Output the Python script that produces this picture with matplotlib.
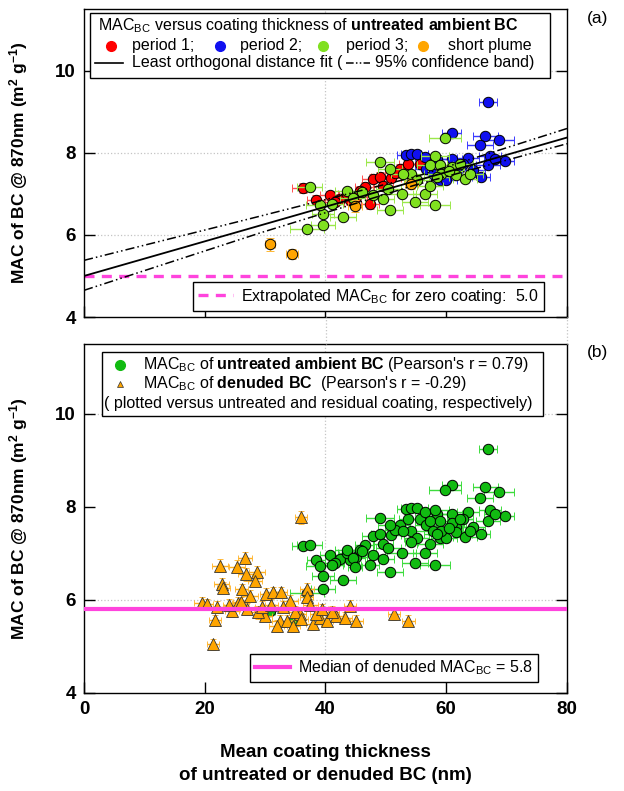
"""MAC of BC versus coating thickness, two stacked panels (a) and (b)"""
import matplotlib
matplotlib.use('Agg')
import matplotlib.pyplot as plt
from matplotlib.patches import Rectangle
from matplotlib.lines import Line2D

plt.rcParams['font.family'] = ['Liberation Sans', 'DejaVu Sans']
plt.rcParams['mathtext.fontset'] = 'custom'
plt.rcParams['mathtext.rm'] = 'Liberation Sans'
plt.rcParams['mathtext.it'] = 'Liberation Sans:italic'
plt.rcParams['mathtext.bf'] = 'Liberation Sans:bold'

# ---- panel (a): untreated ambient BC, by period ----
p1_x = [36.2, 38.5, 40.7, 42.4, 45.1, 47.4, 46.5, 47.9, 49.1, 50.9, 52.3, 53.7,
        55.6, 45.7, 44.0, 41.5, 49.5, 51.5, 43.5]
p1_y = [7.15, 6.86, 6.96, 6.88, 6.92, 6.76, 7.17, 7.37, 7.41, 7.39, 7.61, 7.73,
        7.73, 7.08, 6.85, 6.80, 7.20, 7.50, 7.00]
p1_xerr = [1.8, 1.5, 1.6, 1.4, 1.7, 1.5, 1.6, 1.8, 1.5, 1.6, 1.7, 1.5,
           1.8, 1.4, 1.6, 1.5, 1.7, 1.6, 1.5]
p1_yerr = [0.12, 0.10, 0.12, 0.11, 0.10, 0.12, 0.13, 0.11, 0.12, 0.10, 0.12, 0.11,
           0.10, 0.12, 0.11, 0.10, 0.12, 0.11, 0.10]

p2_x = [66.9, 60.9, 66.5, 68.7, 65.6, 67.2, 69.7, 66.9, 65.7, 63.6, 53.4, 54.2,
        55.1, 56.5, 56.7, 58.9, 60.9, 61.7, 64.5, 62.8, 57.8, 60.0, 58.5, 68.0]
p2_y = [9.24, 8.48, 8.42, 8.31, 8.19, 7.93, 7.81, 7.69, 7.41, 7.88, 7.95, 7.97,
        7.97, 7.90, 7.61, 7.33, 7.85, 7.57, 7.57, 7.73, 7.49, 7.33, 7.85, 7.85]
p2_xerr = [1.5, 1.6, 2.0, 2.5, 2.2, 1.8, 1.6, 2.0, 1.5, 1.8, 1.6, 1.7,
           1.9, 1.6, 1.8, 1.5, 1.7, 1.6, 1.9, 1.7, 1.5, 1.8, 1.6, 1.7]

p3_x = [37.4, 36.9, 39.6, 39.6, 42.9, 43.5, 39.1, 41.0, 49.0, 50.7, 50.4, 49.6,
        50.7, 47.9, 52.6, 54.8, 58.1, 56.5, 57.3, 59.8, 58.2, 57.3, 58.9, 60.9,
        62.3, 61.7, 63.1, 63.9, 54.2, 52.9, 59.2, 55.1, 58.4, 46.0, 44.5, 60.5]
p3_y = [7.17, 6.15, 6.23, 6.52, 6.43, 7.08, 6.72, 6.76, 7.77, 7.61, 7.12, 6.88,
        6.60, 6.96, 7.00, 6.80, 6.74, 7.00, 7.20, 8.36, 7.93, 7.69, 7.69, 7.65,
        7.73, 7.45, 7.35, 7.49, 7.49, 7.49, 7.49, 7.33, 7.41, 7.05, 6.90, 7.55]
p3_xerr = [2.1, 2.8, 2.0, 1.8, 2.2, 2.0, 2.4, 1.9, 2.3, 2.0, 2.1, 1.8,
           2.2, 2.0, 2.4, 2.1, 2.5, 2.0, 2.2, 2.6, 2.3, 2.1, 2.2, 2.0,
           2.1, 2.3, 2.0, 2.2, 2.1, 2.0, 2.3, 2.1, 2.0, 1.9, 2.1, 2.2]

plume_x = [30.8, 34.5, 44.9, 54.2]
plume_y = [5.77, 5.53, 6.70, 7.24]
plume_xerr = [0.9, 1.0, 1.2, 1.1]
plume_yerr = [0.15, 0.12, 0.14, 0.13]

# least orthogonal distance fit and 95% confidence band
fit_x = [0, 80]
fit_y = [5.0, 8.37]
band_x = [0, 29, 55, 80]
band_hi = [5.38, 6.45, 7.42, 8.59]
band_lo = [4.65, 6.04, 7.22, 8.22]
mac_zero = 5.0

# ---- panel (b): denuded BC ----
den_x = [21.4, 19.5, 20.3, 21.7, 22.5, 22.8, 23.1, 25.3, 26.7, 26.9, 28.6, 28.3,
         26.1, 25.5, 24.5, 27.5, 30.2, 31.3, 32.7, 32.5, 31.9, 33.6, 34.1, 35.8,
         36.9, 36.9, 38.0, 39.1, 40.2, 41.8, 43.2, 44.0, 45.1, 30.0, 28.9, 34.7,
         35.9, 51.3, 53.7, 29.5, 27.0, 33.0, 35.0, 37.5, 38.5, 24.0, 22.0, 36.0,
         39.5, 41.0, 26.0, 31.0]
den_y = [5.05, 5.94, 5.91, 5.56, 6.73, 6.34, 6.26, 6.71, 6.91, 6.55, 6.59, 6.41,
         6.23, 5.94, 5.76, 6.09, 6.12, 6.16, 6.16, 5.55, 5.44, 5.55, 5.98, 5.69,
         6.23, 6.06, 5.48, 5.62, 5.55, 5.66, 5.62, 5.87, 5.55, 5.66, 5.73, 5.44,
         7.78, 5.69, 5.55, 5.85, 5.80, 5.85, 5.75, 5.90, 5.70, 5.90, 5.85, 5.60,
         5.80, 5.75, 5.95, 5.90]
den_err_x = [1.0, 1.2, 1.1, 1.0, 1.3, 1.2, 1.1, 1.3, 1.2, 1.4, 1.3, 1.2,
             1.1, 1.0, 1.2, 1.3, 1.1, 1.2, 1.0, 1.3, 1.2, 1.1, 1.3, 1.0,
             1.2, 1.1, 1.3, 1.2, 1.0, 1.1, 1.2, 1.0, 1.1, 1.2, 1.3, 1.1,
             1.0, 1.0, 1.1, 1.2, 1.1, 1.3, 1.0, 1.2, 1.1, 1.0, 1.2, 1.1,
             1.0, 1.2, 1.3, 1.1]
den_err_y = [0.12, 0.13, 0.12, 0.12, 0.14, 0.13, 0.12, 0.14, 0.13, 0.14, 0.13, 0.12,
             0.12, 0.12, 0.13, 0.12, 0.13, 0.12, 0.12, 0.13, 0.12, 0.12, 0.13, 0.12,
             0.13, 0.12, 0.12, 0.13, 0.12, 0.12, 0.13, 0.12, 0.12, 0.12, 0.13, 0.12,
             0.14, 0.12, 0.12, 0.12, 0.13, 0.12, 0.12, 0.13, 0.12, 0.12, 0.13, 0.12,
             0.12, 0.13, 0.12, 0.12]
mac_denuded_median = 5.8

x_ticks = [0, 20, 40, 60, 80]
y_ticks = [4, 6, 8, 10]

RED = '#ff0000'
BLUE = '#1010f0'
LGREEN = '#80e020'
ORANGE = '#ffa500'
GREEN = '#11bb11'
PINK = '#ff44dd'
GRID = '#c4c4c4'
FS = 11.5

fig = plt.figure(figsize=(6.24, 7.91), dpi=100)
ax1 = fig.add_axes([0.1346, 0.5992, 0.774, 0.3894])
ax2 = fig.add_axes([0.1346, 0.1239, 0.774, 0.4412])


def style_axes(ax, grid_y):
    ax.set_xlim(0, 80)
    ax.set_ylim(4, 11.5)
    ax.set_xticks(x_ticks)
    ax.set_yticks(y_ticks)
    ax.tick_params(direction='in', length=8, width=1, right=True,
                   labelsize=13.5, pad=6)
    for lab in ax.get_xticklabels() + ax.get_yticklabels():
        lab.set_fontweight('bold')
    for sp in ax.spines.values():
        sp.set_linewidth(1)
    for gy in grid_y:
        ax.axhline(gy, color=GRID, ls=':', lw=0.9, zorder=0)
    ax.axvline(40, color=GRID, ls=':', lw=0.9, zorder=0)
    ax.set_ylabel(r'MAC of BC @ 870nm (m$^{\mathbf{2}}$ g$^{\mathbf{-1}}$)',
                  fontsize=12.5, fontweight='bold')
    ax.yaxis.set_label_coords(-0.112, 0.5)


def frame_box(ax, x0, y0, x1, y1):
    ax.add_patch(Rectangle((x0, y0), x1 - x0, y1 - y0, transform=ax.transAxes,
                           facecolor='white', edgecolor='black', lw=1,
                           zorder=8, clip_on=False))


def marker_handle(ax, x, y, **kw):
    ax.add_line(Line2D([x], [y], transform=ax.transAxes, ls='none', zorder=9,
                       clip_on=False, **kw))


def right_edge(ax, t):
    bb = t.get_window_extent(fig.canvas.get_renderer())
    return ax.transAxes.inverted().transform((bb.x1, bb.y0))[0]


# ---------------- panel (a) ----------------
style_axes(ax1, [6, 8, 10])
ax1.tick_params(labelbottom=False)

pt = dict(fmt='o', ms=7.5, mec='black', mew=0.7, elinewidth=1,
          capsize=3, capthick=1)
ax1.errorbar(p1_x, p1_y, xerr=p1_xerr, yerr=p1_yerr, mfc=RED,
             ecolor='#ff5050', zorder=3, **pt)
ax1.errorbar(p2_x, p2_y, xerr=p2_xerr, mfc=BLUE, ecolor='#3a3aff',
             zorder=3, **pt)
ax1.errorbar(p3_x, p3_y, xerr=p3_xerr, mfc=LGREEN, ecolor='#9be84a',
             zorder=4, **pt)
ax1.errorbar(plume_x, plume_y, xerr=plume_xerr, yerr=plume_yerr, mfc=ORANGE,
             ecolor='#ffb833', zorder=5, **pt)

ax1.plot(fit_x, fit_y, color='black', lw=1.3, zorder=6)
ax1.plot(band_x, band_hi, color='black', lw=1.1, ls=(0, (6, 2, 1, 2, 1, 2)), zorder=6)
ax1.plot(band_x, band_lo, color='black', lw=1.1, ls=(0, (6, 2, 1, 2, 1, 2)), zorder=6)

zero_line = ax1.axhline(mac_zero, color=PINK, lw=2.4, ls=(0, (3, 2.2)), zorder=2,
                        label=r'Extrapolated MAC$_{\mathrm{BC}}$ for zero coating:  %.1f' % mac_zero)
leg = ax1.legend(handles=[zero_line], loc='lower right', bbox_to_anchor=(0.952, 0.02),
                 fontsize=FS, fancybox=False, edgecolor='black', framealpha=1,
                 borderpad=0.3, handlelength=2.2, handletextpad=0.5,
                 borderaxespad=0)
leg.get_frame().set_linewidth(1)

# top-left legend box
frame_box(ax1, 0.0124, 0.776, 0.965, 0.987)
ax1.text(0.029, 0.946, r'MAC$_{\mathrm{BC}}$ versus coating thickness of '
         r'$\mathbf{untreated\ ambient\ BC}$', transform=ax1.transAxes,
         fontsize=FS, va='center', zorder=9)
row2 = [(0.056, 0.099, RED, 'period 1;'), (0.282, 0.323, BLUE, 'period 2;'),
        (0.495, 0.542, LGREEN, 'period 3;'), (0.702, 0.754, ORANGE, 'short plume')]
for mx, tx, col, lab in row2:
    marker_handle(ax1, mx, 0.880, marker='o', ms=7, mfc=col, mec=col)
    ax1.text(tx, 0.880, lab, transform=ax1.transAxes, fontsize=FS,
             va='center', zorder=9)
ax1.add_line(Line2D([0.023, 0.081], [0.825, 0.825], transform=ax1.transAxes,
                    color='black', lw=1.2, zorder=9, clip_on=False))
t1 = ax1.text(0.099, 0.825, 'Least orthogonal distance fit (', transform=ax1.transAxes,
              fontsize=FS, va='center', zorder=9)
fig.canvas.draw()
xr = right_edge(ax1, t1)
ax1.add_line(Line2D([xr + 0.008, xr + 0.058], [0.825, 0.825], transform=ax1.transAxes,
                    color='black', lw=1.1, ls=(0, (5, 1.5, 1, 1.5, 1, 1.5)),
                    zorder=9, clip_on=False))
ax1.text(xr + 0.068, 0.825, '95% confidence band)', transform=ax1.transAxes,
         fontsize=FS, va='center', zorder=9)

# ---------------- panel (b) ----------------
style_axes(ax2, [6, 10])

all_x = p1_x + p2_x + p3_x + plume_x
all_y = p1_y + p2_y + p3_y + plume_y
all_xerr = p1_xerr + p2_xerr + p3_xerr + plume_xerr
ax2.errorbar(all_x, all_y, xerr=all_xerr, mfc=GREEN, ecolor='#3ddc3d',
             zorder=3, **pt)
ax2.errorbar(den_x, den_y, xerr=den_err_x, yerr=den_err_y, fmt='^', ms=8.5,
             mfc=ORANGE, mec='#333333', mew=0.6, ecolor='#ffb020', elinewidth=1,
             capsize=2.5, capthick=1, zorder=4)

med_line = ax2.axhline(mac_denuded_median, color=PINK, lw=3, zorder=6,
                       label=r'Median of denuded MAC$_{\mathrm{BC}}$ = %.1f' % mac_denuded_median)
leg2 = ax2.legend(handles=[med_line], loc='lower right', bbox_to_anchor=(0.94, 0.032),
                  fontsize=FS, fancybox=False, edgecolor='black', framealpha=1,
                  borderpad=0.3, handlelength=2.2, handletextpad=0.5,
                  borderaxespad=0)
leg2.get_frame().set_linewidth(1)

frame_box(ax2, 0.037, 0.793, 0.950, 0.977)
marker_handle(ax2, 0.075, 0.940, marker='o', ms=7, mfc=GREEN, mec=GREEN)
ax2.text(0.122, 0.940, r'MAC$_{\mathrm{BC}}$ of $\mathbf{untreated\ ambient\ BC}$'
         r" (Pearson's r = 0.79)", transform=ax2.transAxes, fontsize=FS,
         va='center', zorder=9)
marker_handle(ax2, 0.075, 0.886, marker='^', ms=5, mfc=ORANGE, mec='#333333', mew=0.5)
ax2.text(0.122, 0.886, r'MAC$_{\mathrm{BC}}$ of $\mathbf{denuded\ BC}$'
         r"  (Pearson's r = -0.29)", transform=ax2.transAxes, fontsize=FS,
         va='center', zorder=9)
ax2.text(0.042, 0.830, '( plotted versus untreated and residual coating, respectively)',
         transform=ax2.transAxes, fontsize=FS, va='center', zorder=9)

# dotted grid continues through the gap between panels
for gx in [325.5 / 624, 567 / 624]:
    fig.add_artist(Line2D([gx, gx], [1 - 344 / 791, 1 - 317 / 791], color=GRID,
                          ls=':', lw=0.9))

fig.text(325.5 / 624, 1 - 764 / 791,
         'Mean coating thickness\nof untreated or denuded BC (nm)',
         ha='center', va='center', fontsize=13.5, fontweight='bold', linespacing=1.45)
fig.text(598 / 624, 1 - 18 / 791, '(a)', ha='center', va='center', fontsize=12.5)
fig.text(598 / 624, 1 - 352 / 791, '(b)', ha='center', va='center', fontsize=12.5)

fig.savefig('out.png', dpi=100)
